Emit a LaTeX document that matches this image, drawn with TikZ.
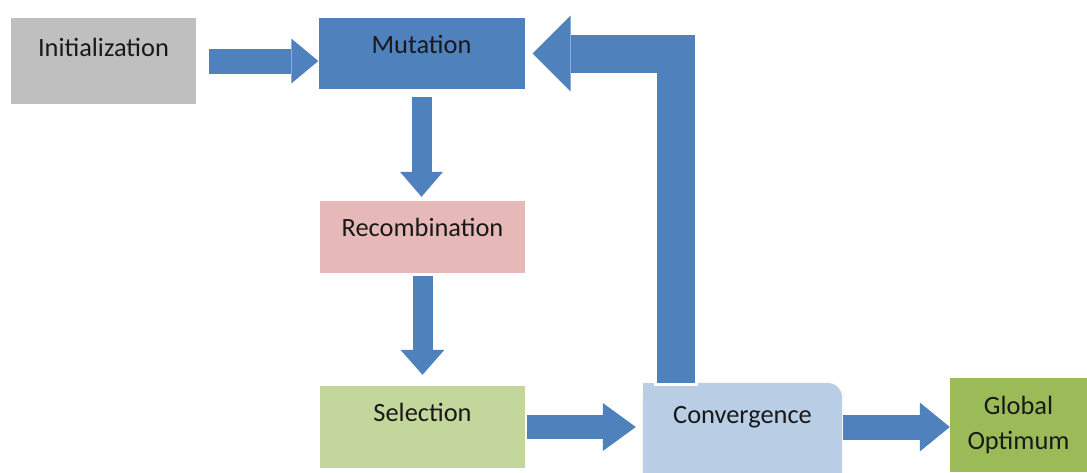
\documentclass[tikz,border=0pt]{standalone}
\usepackage{fontspec}
\setmainfont{Carlito}
\usetikzlibrary{arrows.meta,positioning,backgrounds,calc}
\definecolor{arrowblue}{HTML}{4F81BD}
\definecolor{mutblue}{HTML}{4F81BD}
\definecolor{initgray}{HTML}{BFBFBF}
\definecolor{recpink}{HTML}{E6B9B8}
\definecolor{selgreen}{HTML}{C3D69B}
\definecolor{convblue}{HTML}{B9CDE5}
\definecolor{optgreen}{HTML}{9BBB59}
\tikzset{
  box/.style={rectangle, inner sep=0pt, font=\fontsize{26.4}{35}\selectfont, text=black!90},
  fatarrow/.style n args={3}{draw=arrowblue, line width=#1,
    -{Triangle[length=#2, width=#3, line width=0pt]}}
}

\begin{document}
\begin{tikzpicture}[x=1pt, y=-1pt]
  \useasboundingbox (0,0) rectangle (1087,472);

  % boxes
  \node[box, fill=initgray, minimum width=185pt, text height=38pt, text depth=48pt] (init) at (103.5,61) {Initialization};
  \node[box, fill=mutblue, minimum width=206pt, text height=35pt, text depth=36pt] (mut) at (421.5,53.5) {Mutation};
  \node[box, fill=recpink, minimum width=205pt, text height=35pt, text depth=37pt] (rec) at (422.5,237) {Recombination};
  \node[box, fill=selgreen, minimum width=205pt, text height=35pt, text depth=47pt] (sel) at (422.5,427) {Selection};
  \node[box, minimum width=199pt, text height=40pt, text depth=67pt] (conv) at (742.5,436.5) {Convergence};
  \node[box, fill=optgreen, minimum width=137pt, minimum height=94pt, align=center] (opt) at (1018.5,425) {Global\\Optimum};

  \begin{scope}[on background layer]
    \fill[convblue, rounded corners=15pt] (conv.south west) rectangle (conv.north east);
    \fill[convblue] (conv.north west) rectangle ($(conv.south east)+(-20,0)$);
  \end{scope}

  % arrows
  \draw[fatarrow={25pt}{27pt}{45pt}, shorten <=13pt] (init.east) -- (init.east -| mut.west);
  \draw[fatarrow={20pt}{25pt}{43pt}, shorten <=8pt, shorten >=4pt] (mut.south) -- (mut.south |- rec.north);
  \draw[fatarrow={20pt}{25pt}{44pt}, shorten <=3pt, shorten >=11pt] (rec.south) -- (rec.south |- sel.north);
  \draw[fatarrow={24pt}{33pt}{48pt}, shorten <=2pt, shorten >=7pt] (sel.east) -- (sel.east -| conv.west);
  \draw[fatarrow={25pt}{30pt}{49pt}, shorten <=1pt] (sel.east -| conv.east) -- (sel.east -| opt.west);

  % loop back to mutation
  \coordinate (loopfoot) at ($(conv.north west)+(33,0)$);
  \draw[fatarrow={38pt}{38pt}{76pt}, line join=miter, shorten >=8pt,
    preaction={draw=white, line width=44pt, -, shorten <=-3pt}] (loopfoot) |- (mut.east);
\end{tikzpicture}
\end{document}
